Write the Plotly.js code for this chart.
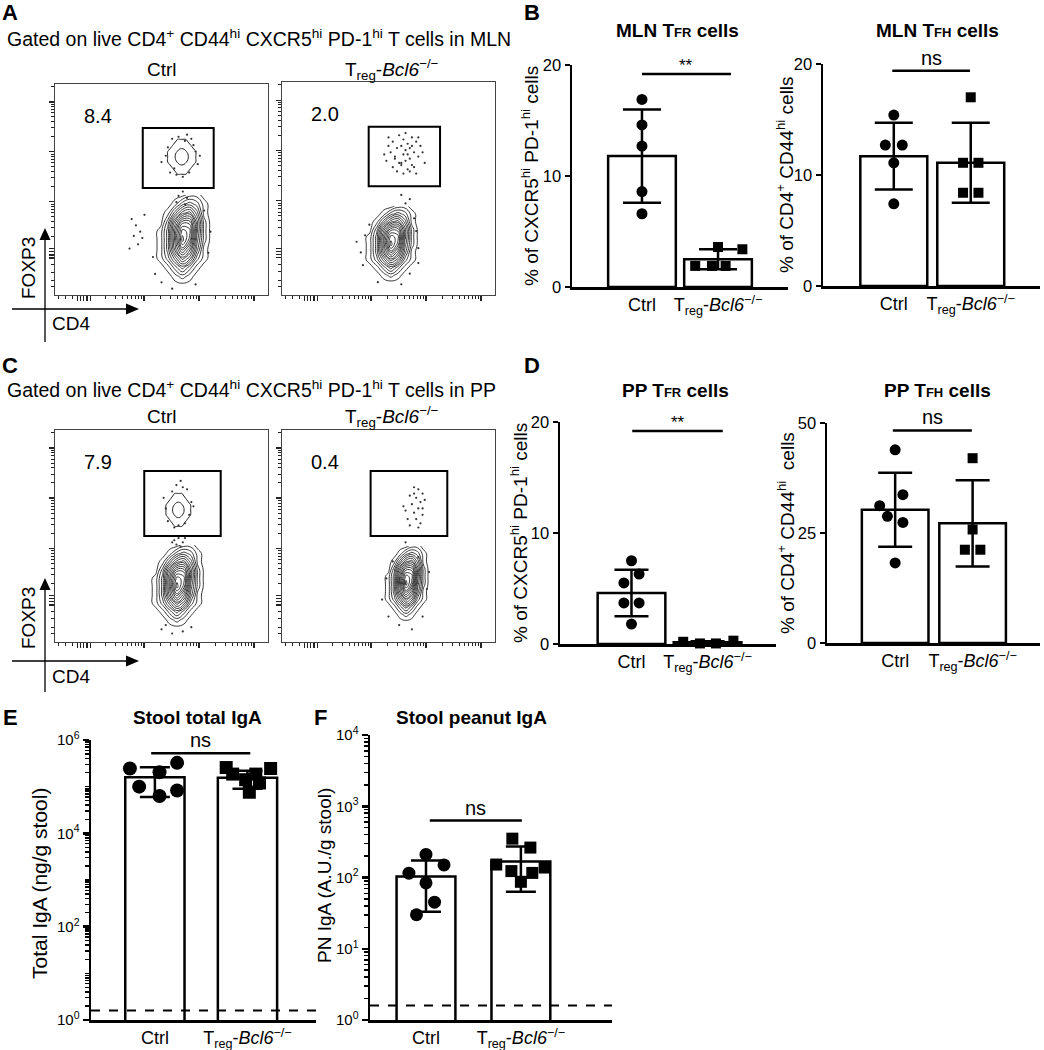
<!DOCTYPE html>
<html><head><meta charset="utf-8">
<script src="https://cdn.plot.ly/plotly-3.0.1.min.js"></script>
<style>html,body{margin:0;padding:0;background:#fff}#chart{width:1044px;height:1050px}</style>
</head><body><div id="chart"></div>
<script>
// ================= DATA =================
const groups = ['Ctrl', 'Treg-Bcl6-/-'];
const groupTickText = ['Ctrl', 'T<sub>reg</sub>-<i>Bcl6</i><sup>−/−</sup>'];

// B: MLN TFR cells (% of CXCR5hi PD-1hi cells)
const mlnTfrMean = [11.8, 2.5];
const mlnTfrSD = [4.2, 0.9];
const mlnTfrCtrl = [16.9, 14.6, 12.7, 8.6, 6.6];
const mlnTfrKO = [3.6, 3.4, 1.9, 1.9, 1.9];
// B: MLN TFH cells (% of CD4+ CD44hi cells)
const mlnTfhMean = [11.7, 11.1];
const mlnTfhSD = [3.0, 3.6];
const mlnTfhCtrl = [15.4, 12.7, 12.7, 11.1, 7.4];
const mlnTfhKO = [17.0, 11.1, 11.1, 8.4, 8.4];
// D: PP TFR cells
const ppTfrMean = [4.6, 0.15];
const ppTfrSD = [2.1, 0.1];
const ppTfrCtrl = [7.5, 6.3, 5.5, 3.7, 3.7, 1.8];
const ppTfrKO = [0.2, 0.05, 0.05, 0.3];
// D: PP TFH cells
const ppTfhMean = [30.3, 27.2];
const ppTfhSD = [8.4, 9.8];
const ppTfhCtrl = [43.9, 33.7, 31.2, 28.8, 27.4, 18.2];
const ppTfhKO = [42.0, 25.8, 21.2, 21.2];
// E: Stool total IgA (ng/g stool)
const totIgaMean = [160000, 155000];
const totIgaSD = [100000, 65000];
const totIgaCtrl = [245000, 324000, 204000, 100000, 83000, 63000];
const totIgaKO = [257000, 245000, 186000, 186000, 141000, 120000, 76000];
// F: Stool peanut IgA (A.U./g stool)
const pnIgaMean = [103, 168];
const pnIgaSD = [70, 105];
const pnIgaCtrl = [211, 150, 115, 84, 45, 30];
const pnIgaKO = [351, 263, 152, 123, 116, 138, 87];
const detectionLimit = [1.6, 1.6];   // E, F dashed lines

// significance labels
const sigLabels = ['**', 'ns', '**', 'ns', 'ns', 'ns'];
const sigHeights = [19.2, 19.4, 19.2, 48.3, 520000, 630];

// A / C flow cytometry: gate frequencies and gates (axis units 0-100)
const flowPanels = ['MLN Ctrl', 'MLN Treg-Bcl6-/-', 'PP Ctrl', 'PP Treg-Bcl6-/-'];
const gatePct = ['8.4', '2.0', '7.9', '0.4'];
const gateX0 = [41.2, 40.7, 41.9, 41.6];
const gateX1 = [74.5, 74.2, 77.8, 77.6];
const gateY0 = [50.7, 51.0, 50.0, 50.0];
const gateY1 = [79.1, 79.0, 80.7, 80.7];
// main (FOXP3-) population: centre and half-extent of contour grid
const mainCx = [59.8, 51.1, 57.2, 58.2];
const mainCy = [26.0, 23.7, 26.1, 27.3];
const mainHw = [13.6, 13.2, 13.2, 11.0];
const mainHh = [21.5, 18.0, 19.6, 18.0];
// gated (FOXP3+) population contours (only Ctrl panels show contours)
const gatedCx = [59.5, null, 57.9, null];
const gatedCy = [65.5, null, 62.3, null];
const gatedHw = [8.0, null, 7.0, null];
const gatedHh = [10.0, null, 9.4, null];
// relative event density
const mainDensity = [
  [0,0,0,0,0,0,0,0,0],
  [0,0,0,1,2,1,0,0,0],
  [0,0,1,3,5,3,1,0,0],
  [0,1,3,6,9,7,3,1,0],
  [0,1,4,9,13,10,5,1,0],
  [0,1,4,10,16,13,6,2,0],
  [0,1,4,10,15,14,7,2,0],
  [0,0,3,8,12,12,7,2,0],
  [0,0,1,4,7,8,5,1,0],
  [0,0,0,1,3,4,3,1,0],
  [0,0,0,0,0,1,1,0,0]
];
const gatedDensity = [
  [0,0,0,0,0,0,0,0,0],
  [0,0,0,1,1,1,0,0,0],
  [0,0,1,2,2,2,1,0,0],
  [0,1,2,3,4,3,2,1,0],
  [0,1,2,4,5,4,2,1,0],
  [0,1,2,3,4,3,2,1,0],
  [0,0,1,2,2,2,1,0,0],
  [0,0,0,1,1,1,0,0,0],
  [0,0,0,0,0,0,0,0,0]
];
// individual events drawn as dots
const mlnCtrlEventsX = [52,53,66,67,55,64,58,61,50,68,54,63,57,60,65,56,62,58,60,62,57,61,36,38,40,37,41,39,35,42,46,73,47,72,50,70,55,66];
const mlnCtrlEventsY = [66,70,68,62,74,74,75,73,63,66,58,58,57,56,71,60,76,47,49,46,44,43,36,33,30,28,27,24,22,38,18,30,10,20,6,40,3,5];
const mlnKOEventsX = [50,52,55,57,59,61,63,54,56,58,60,62,65,48,51,53,57,60,64,66,55,58,61,49,52,56,59,62,67,54,57,60,63,58,53,50,61,56,59,64,56,60,58,37,39,64,63,38,60,45,56,41,62,35,64];
const mlnKOEventsY = [74,72,75,73,71,74,72,69,70,68,69,67,70,66,67,65,66,64,65,67,62,63,61,63,60,62,59,60,62,58,57,58,57,76,64,70,70,61,66,74,47,45,43,20,28,22,30,14,10,6,5,33,36,25,15];
const ppCtrlEventsX = [52,51,64,63,55,62,57,60,53,65,58,56,61,59,56,58,60,57,59,55,61,50,55,60,52,64];
const ppCtrlEventsY = [63,68,66,60,71,72,74,73,57,64,55,54,56,76,48,49,47,46,45,47,49,6,4,5,8,7];
const ppKOEventsX = [62,64,66,60,63,65,67,61,64,58,62,66,59,63,65,60,64,57,62,66,47,49,68,69,50,66,55,61,58,64,52];
const ppKOEventsY = [73,72,70,69,68,66,67,65,63,62,61,60,58,58,56,55,54,64,70,63,20,30,25,33,12,12,8,6,47,40,38];

// ================= LAYOUT / STYLE =================
const W = 1044, H = 1050;
const FONT = 'Liberation Sans, Arial, Helvetica, sans-serif';
const px = x => x / W;
const py = y => 1 - y / H;
const xd = (a, b) => [px(a), px(b)];
const yd = (top, bot) => [py(bot), py(top)];

const traces = [];
const annotations = [];
const shapes = [];
const layout = {
  width: W, height: H, margin: {l: 0, r: 0, t: 0, b: 0},
  paper_bgcolor: '#fff', plot_bgcolor: 'rgba(0,0,0,0)',
  showlegend: false, font: {family: FONT, color: '#000'},
  annotations, shapes
};

// ---------- flow cytometry panels ----------
const flowBoxes = [[55, 268, 84, 295], [282, 495, 82, 295], [55, 268, 430, 642], [282, 495, 430, 642]];
const xDec = 25.8, yDec = 23.6;
const flowXMajor = [10.5, 12, 13.5, 15, 16.5, 41.8, 67.6, 93.4];
const flowYMajor = [17.5, 19, 20.5, 22, 44.2, 67.9, 91.5];
const flowXMinor = [1.5, 4.7, 8];
[16.0, 41.8, 67.6].forEach(b => { for (let k = 2; k <= 9; k++) flowXMinor.push(b + xDec * Math.log10(k)); });
const flowYMinor = [3.8, 7, 10.9, 14.5];
[20.6, 44.2, 67.9, 91.5].forEach(b => { for (let k = 2; k <= 9; k++) { const v = b + yDec * Math.log10(k); if (v < 99) flowYMinor.push(v); } });
const eventsX = [mlnCtrlEventsX, mlnKOEventsX, ppCtrlEventsX, ppKOEventsX];
const eventsY = [mlnCtrlEventsY, mlnKOEventsY, ppCtrlEventsY, ppKOEventsY];

flowPanels.forEach((name, i) => {
  const n = i + 1, b = flowBoxes[i];
  const common = {showline: true, mirror: true, linecolor: '#444', linewidth: 1, ticks: 'outside',
    tickcolor: '#222', tickwidth: 1.2, ticklen: 5, showticklabels: false, showgrid: false,
    zeroline: false, fixedrange: true, range: [0, 100]};
  layout['xaxis' + n] = Object.assign({}, common, {domain: xd(b[0], b[1]), anchor: 'y' + n,
    tickmode: 'array', tickvals: flowXMajor,
    minor: {tickmode: 'array', tickvals: flowXMinor, ticklen: 3, tickwidth: 1, ticks: 'outside', tickcolor: '#222'}});
  layout['yaxis' + n] = Object.assign({}, common, {domain: yd(b[2], b[3]), anchor: 'x' + n,
    tickmode: 'array', tickvals: flowYMajor,
    minor: {tickmode: 'array', tickvals: flowYMinor, ticklen: 3, tickwidth: 1, ticks: 'outside', tickcolor: '#222'}});
  traces.push({type: 'scatter', mode: 'markers', x: eventsX[i], y: eventsY[i], xaxis: 'x' + n, yaxis: 'y' + n,
    marker: {size: 2.2, color: '#333'}, hoverinfo: 'skip'});
  const nc = mainDensity[0].length, nr = mainDensity.length;
  traces.push({type: 'contour', z: mainDensity, x0: mainCx[i] - mainHw[i], dx: 2 * mainHw[i] / (nc - 1),
    y0: mainCy[i] - mainHh[i], dy: 2 * mainHh[i] / (nr - 1), xaxis: 'x' + n, yaxis: 'y' + n,
    contours: {coloring: 'none', start: 0.5, end: 15.5, size: 1},
    line: {color: '#222', width: 0.9, smoothing: 1.3}, showscale: false, hoverinfo: 'skip'});
  if (gatedCx[i] !== null) {
    const gc = gatedDensity[0].length, gr = gatedDensity.length;
    traces.push({type: 'contour', z: gatedDensity, x0: gatedCx[i] - gatedHw[i], dx: 2 * gatedHw[i] / (gc - 1),
      y0: gatedCy[i] - gatedHh[i], dy: 2 * gatedHh[i] / (gr - 1), xaxis: 'x' + n, yaxis: 'y' + n,
      contours: {coloring: 'none', start: 0.7, end: 2.9, size: 2.2},
      line: {color: '#222', width: 1, smoothing: 1.3}, showscale: false, hoverinfo: 'skip'});
  }
  shapes.push({type: 'rect', xref: 'x' + n, yref: 'y' + n, x0: gateX0[i], x1: gateX1[i], y0: gateY0[i], y1: gateY1[i],
    line: {color: '#000', width: 2}, fillcolor: 'rgba(0,0,0,0)'});
  annotations.push({xref: 'x' + n, yref: 'y' + n, x: 20, y: 85, text: gatePct[i], showarrow: false,
    font: {size: 20, family: FONT}, xanchor: 'center', yanchor: 'middle'});
});

// ---------- bar panels ----------
const jitter = {
  mlnTfr: [[0, 0, 0, 0, 0], [0, 0.32, -0.3, -0.08, 0.1]],
  mlnTfh: [[0, -0.11, 0.11, 0, 0], [0, -0.1, 0.1, -0.1, 0.1]],
  ppTfr: [[0, 0.1, -0.1, -0.1, 0.1, 0], [-0.32, -0.1, 0.11, 0.34]],
  ppTfh: [[0, 0.1, -0.2, -0.1, 0.1, 0], [0, 0, -0.1, 0.1]],
  totIga: [[-0.27, 0.24, 0.05, -0.17, 0.24, 0.05], [-0.23, 0.25, -0.16, 0.09, -0.02, 0.13, 0.02]],
  pnIga: [[0, 0.19, -0.18, 0, 0.09, -0.1], [-0.09, 0.1, -0.26, -0.1, 0.12, 0.25, 0]]
};
const yTitleB1 = '% of CXCR5<sup>hi</sup> PD-1<sup>hi</sup> cells';
const yTitleB2 = '% of CD4<sup>+</sup> CD44<sup>hi</sup> cells';
const bigT = (a, b) => '<b>' + a + ' T<span style="font-size:13px">' + b + '</span> cells</b>';
const panels = [
  {n: 5, mean: mlnTfrMean, sd: mlnTfrSD, pts: [mlnTfrCtrl, mlnTfrKO], jit: jitter.mlnTfr, box: [572, 788, 65, 287],
   xr: [-0.92, 1.92], bw: 0.89, yr: [0, 20], ticks: [0, 10, 20], cap: 19, ms: 11, br: [0, 1.17], sig: 0,
   title: bigT('MLN', 'FR'), tx: 677, ty: 30, ytitle: yTitleB1, ytx: 530},
  {n: 6, mean: mlnTfhMean, sd: mlnTfhSD, pts: [mlnTfhCtrl, mlnTfhKO], jit: jitter.mlnTfh, box: [823, 1040, 64, 286],
   xr: [-0.92, 1.9], bw: 0.87, yr: [0, 20], ticks: [0, 10, 20], cap: 19, ms: 11, br: [-0.02, 0.99], sig: 1,
   title: bigT('MLN', 'FH'), tx: 937, ty: 30, ytitle: yTitleB2, ytx: 785},
  {n: 7, mean: ppTfrMean, sd: ppTfrSD, pts: [ppTfrCtrl, ppTfrKO], jit: jitter.ppTfr, box: [560, 776, 422, 644],
   xr: [-0.94, 1.9], bw: 0.89, yr: [0, 20], ticks: [0, 10, 20], cap: 17, ms: 11, br: [0.01, 1.2], sig: 2,
   title: bigT('PP', 'FR'), tx: 675, ty: 390, ytitle: yTitleB1, ytx: 519},
  {n: 8, mean: ppTfhMean, sd: ppTfhSD, pts: [ppTfhCtrl, ppTfhKO], jit: jitter.ppTfh, box: [827, 1040, 423, 643],
   xr: [-0.88, 1.87], bw: 0.86, yr: [0, 50], ticks: [0, 25, 50], cap: 17, ms: 11, br: [-0.03, 0.99], sig: 3,
   title: bigT('PP', 'FH'), tx: 937, ty: 390, ytitle: yTitleB2.replace(' cells', '  cells'), ytx: 786},
  {n: 9, mean: totIgaMean, sd: totIgaSD, pts: [totIgaCtrl, totIgaKO], jit: jitter.totIga, box: [91, 316, 740, 1020],
   xr: [-0.69, 1.74], bw: 0.64, log: true, yr: [0, 6], ticks: [1, 100, 1e4, 1e6], cap: 15, ms: 14, br: [-0.04, 1.03], sig: 4,
   title: '<b>Stool total IgA</b>', tx: 197, ty: 717, ytitle: 'Total IgA (ng/g stool)', ytf: 21, ytx: 39, yty: 884, lod: detectionLimit[0]},
  {n: 10, mean: pnIgaMean, sd: pnIgaSD, pts: [pnIgaCtrl, pnIgaKO], jit: jitter.pnIga, box: [370, 612, 735, 1020],
   xr: [-0.59, 1.96], bw: 0.62, log: true, yr: [0, 4], ticks: [1, 10, 100, 1000, 1e4], cap: 15, ms: 13, br: [0.04, 1.01], sig: 5,
   title: '<b>Stool peanut IgA</b>', tx: 471, ty: 717, ytitle: 'PN IgA (A.U./g stool)', ytf: 19, ytx: 324, yty: 876, lod: detectionLimit[1]}
];

panels.forEach(p => {
  const xa = 'x' + p.n, ya = 'y' + p.n;
  layout['xaxis' + p.n] = {domain: xd(p.box[0], p.box[1]), anchor: ya, range: p.xr, tickmode: 'array',
    tickvals: [0, 1], ticktext: groupTickText, ticks: '', showline: true, linewidth: 2.5, linecolor: '#000',
    tickfont: {size: 18, family: FONT}, showgrid: false, zeroline: false, fixedrange: true};
  const ya_ = {domain: yd(p.box[2], p.box[3]), anchor: xa, range: p.yr, tickmode: 'array', tickvals: p.ticks,
    ticks: 'outside', ticklen: 5, tickwidth: 2.5, tickcolor: '#000', showline: true, linewidth: 2.5, linecolor: '#000',
    tickfont: {size: 16.5, family: FONT}, showgrid: false, zeroline: false, fixedrange: true};
  if (p.log) {
    ya_.type = 'log';
    ya_.ticktext = p.ticks.map(v => '10<sup>' + Math.round(Math.log10(v)) + '</sup>');
    ya_.tickfont = {size: 15, family: FONT};
    ya_.ticklen = 6;
    const mv = [];
    for (let d = p.yr[0]; d < p.yr[1]; d++) for (let k = 2; k <= 10; k++) {
      const v = k * Math.pow(10, d);
      if (!p.ticks.includes(v)) mv.push(v);
    }
    ya_.minor = {tickmode: 'array', tickvals: mv, ticklen: 4, tickwidth: 1.5, ticks: 'outside', tickcolor: '#000'};
  }
  layout['yaxis' + p.n] = ya_;
  annotations.push({xref: 'paper', yref: 'paper', x: px(p.ytx), y: py(p.yty || (p.box[2] + p.box[3]) / 2),
    text: p.ytitle, textangle: -90, showarrow: false, xanchor: 'center', yanchor: 'middle',
    font: {size: p.ytf || 19, family: FONT}});
  traces.push({type: 'bar', x: [0, 1], y: p.mean, width: p.bw, xaxis: xa, yaxis: ya,
    marker: {color: '#fff', line: {color: '#000', width: 2.5}}, hoverinfo: 'skip'});
  if (p.lod !== undefined) {
    traces.push({type: 'scatter', mode: 'lines', x: p.xr, y: [p.lod, p.lod], xaxis: xa, yaxis: ya,
      line: {color: '#000', width: 2, dash: 'dash'}, hoverinfo: 'skip'});
  }
  traces.push({type: 'scatter', mode: 'markers', x: [0, 1], y: p.mean, xaxis: xa, yaxis: ya,
    marker: {size: 1, opacity: 0}, hoverinfo: 'skip',
    error_y: {type: 'data', array: p.sd, visible: true, color: '#000', thickness: 2.5, width: p.cap}});
  p.pts.forEach((vals, g) => {
    traces.push({type: 'scatter', mode: 'markers', x: vals.map((v, i) => g + p.jit[g][i]), y: vals,
      xaxis: xa, yaxis: ya, hoverinfo: 'skip', cliponaxis: false,
      marker: {symbol: g ? 'square' : 'circle', size: g ? p.ms - 1 : p.ms, color: '#000', line: {width: 0}}});
  });
  const h = sigHeights[p.sig];
  traces.push({type: 'scatter', mode: 'lines', x: p.br, y: [h, h], xaxis: xa, yaxis: ya,
    line: {color: '#000', width: 2.5}, hoverinfo: 'skip'});
  const star = sigLabels[p.sig] === '**';
  annotations.push({xref: xa, yref: ya, x: (p.br[0] + p.br[1]) / 2, y: p.log ? Math.log10(h) : h,
    text: sigLabels[p.sig], showarrow: false, yanchor: 'bottom', yshift: star ? -3 : 0,
    font: {size: star ? 17 : 20, family: FONT}});
  annotations.push({xref: 'paper', yref: 'paper', x: px(p.tx), y: py(p.ty), text: p.title, showarrow: false,
    xanchor: 'center', yanchor: 'middle', font: {size: 19, family: FONT}});
});

// ---------- free text ----------
const paperText = (x, y, text, size, extra) => annotations.push(Object.assign({xref: 'paper', yref: 'paper',
  x: px(x), y: py(y), text, showarrow: false, xanchor: 'center', yanchor: 'middle', font: {size, family: FONT}}, extra || {}));
[['A', 10, 12], ['B', 532, 12], ['C', 10, 365], ['D', 532, 365], ['E', 10, 717], ['F', 320, 717]]
  .forEach(l => paperText(l[1], l[2], '<b>' + l[0] + '</b>', 22));
const gatedOn = 'Gated on live CD4<sup>+</sup> CD44<sup>hi</sup> CXCR5<sup>hi</sup> PD-1<sup>hi</sup> T cells in ';
paperText(259, 38, gatedOn + 'MLN', 19.5);
paperText(251, 389, gatedOn + 'PP', 19.5);
[69, 416].forEach(yy => {
  paperText(162, yy, 'Ctrl', 19);
  paperText(392, yy, groupTickText[1], 19);
});
// FOXP3 / CD4 axis arrows
[[309, 228, 342], [661, 578, 692]].forEach(a => {
  const [hy, vtop, vbot] = a;
  shapes.push({type: 'line', xref: 'paper', yref: 'paper', x0: px(45), x1: px(45), y0: py(vbot), y1: py(vtop + 6), line: {color: '#000', width: 1.3}});
  shapes.push({type: 'line', xref: 'paper', yref: 'paper', x0: px(12), x1: px(132), y0: py(hy), y1: py(hy), line: {color: '#000', width: 1.3}});
  shapes.push({type: 'path', xref: 'paper', yref: 'paper', path: `M ${px(39.5)} ${py(vtop + 12)} L ${px(50.5)} ${py(vtop + 12)} L ${px(45)} ${py(vtop)} Z`, fillcolor: '#000', line: {width: 0}});
  shapes.push({type: 'path', xref: 'paper', yref: 'paper', path: `M ${px(126)} ${py(hy - 5.5)} L ${px(126)} ${py(hy + 5.5)} L ${px(139)} ${py(hy)} Z`, fillcolor: '#000', line: {width: 0}});
  paperText(28, vtop + 40, 'FOXP3', 19, {textangle: -90});
  paperText(71, hy + 15, 'CD4', 19);
});

Plotly.newPlot('chart', traces, layout, {staticPlot: true, displayModeBar: false});
</script></body></html>
